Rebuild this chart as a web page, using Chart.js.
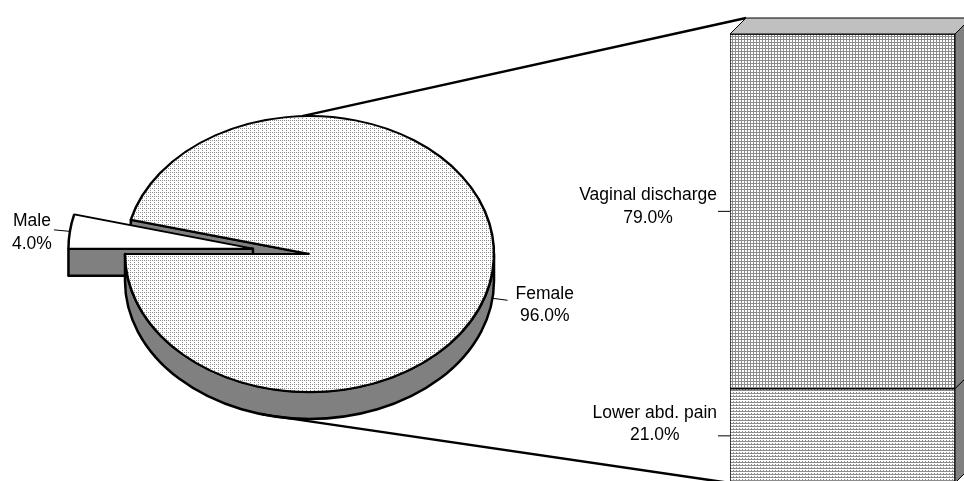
<!DOCTYPE html>
<html>
<head>
<meta charset="utf-8">
<script src="https://cdn.jsdelivr.net/npm/chart.js@4.4.1/dist/chart.umd.min.js"></script>
<style>
  html, body { margin: 0; padding: 0; background: #fff; overflow: hidden; }
  #wrap { position: relative; width: 964px; height: 481px; overflow: hidden; }
  canvas { position: absolute; left: 0; top: 0; }
</style>
</head>
<body>
<div id="wrap">
  <canvas id="pieChart" width="964" height="481"></canvas>
  <canvas id="barChart" width="964" height="500"></canvas>
</div>
<script>
const pieLabels = ['Male', 'Female'];
const pieValues = [4.0, 96.0];
const barLabels = ['Vaginal discharge', 'Lower abd. pain'];
const barValues = [79.0, 21.0];

// look of the 3d parts
const tilt = 0.748;        // vertical squash of the pie
const depth = 27;          // pie thickness
const explode = [57, 0];   // male slice is pulled out
const barDepth = 16;
const linkAngles = [267.7, 104.9]; // where the two connector lines leave the pie
const pieLabelDy = [3, 5];
const barLabelDy = [-4.5, -11.5];
const lineGap = 22.5;
const font = '17.5px "Liberation Sans", Arial, sans-serif';

function makePattern(w, h, dots, color) {
    const c = document.createElement('canvas');
    c.width = w;
    c.height = h;
    const g = c.getContext('2d');
    g.fillStyle = '#fff';
    g.fillRect(0, 0, w, h);
    g.fillStyle = color;
    dots.forEach(d => g.fillRect(d[0], d[1], 1, 1));
    return g.createPattern(c, 'repeat');
}

const pieDots = makePattern(4, 4, [[0, 0], [2, 2], [2, 0]], '#8a8a8a');
const barGrid = makePattern(3, 3, [[0, 0], [1, 0], [2, 0], [0, 1], [0, 2]], '#8c8c8c');
const barLines = makePattern(3, 3, [[0, 0], [1, 0], [2, 0], [1, 2]], '#8c8c8c');

function drawLabel(ctx, lines, x, y) {
    ctx.font = font;
    ctx.fillStyle = '#000';
    ctx.textAlign = 'center';
    ctx.textBaseline = 'middle';
    lines.forEach((t, j) => ctx.fillText(t, x, y + (j - (lines.length - 1) / 2) * lineGap));
}

function blockWidth(ctx, lines) {
    ctx.font = font;
    return Math.max(...lines.map(t => ctx.measureText(t).width));
}

// ---------- bar ----------
const bar3d = {
    id: 'bar3d',
    afterDatasetsDraw(chart) {
        const ctx = chart.ctx;
        const bars = chart.data.datasets.map((ds, i) => chart.getDatasetMeta(i).data[0]);
        const top = Math.min(...bars.map(b => b.y));
        const left = bars[0].x - bars[0].width / 2;
        const right = bars[0].x + bars[0].width / 2;
        ctx.save();
        ctx.strokeStyle = '#000';
        ctx.lineWidth = 1;
        ctx.lineJoin = 'round';
        // side faces
        bars.forEach(b => {
            ctx.beginPath();
            ctx.moveTo(right, b.y);
            ctx.lineTo(right + barDepth, b.y - barDepth);
            ctx.lineTo(right + barDepth, b.base - barDepth);
            ctx.lineTo(right, b.base);
            ctx.closePath();
            ctx.fillStyle = '#808080';
            ctx.fill();
            ctx.stroke();
        });
        // top face
        ctx.beginPath();
        ctx.moveTo(left, top);
        ctx.lineTo(left + barDepth, top - barDepth);
        ctx.lineTo(right + barDepth, top - barDepth);
        ctx.lineTo(right, top);
        ctx.closePath();
        ctx.fillStyle = '#c0c0c0';
        ctx.fill();
        ctx.stroke();
        ctx.restore();
    },
    afterDraw(chart) {
        const ctx = chart.ctx;
        ctx.save();
        chart.data.datasets.forEach((ds, di) => {
            const b = chart.getDatasetMeta(di).data[0];
            const i = barLabels.indexOf(ds.label);
            const left = b.x - b.width / 2;
            const midY = (b.y + b.base) / 2;
            const lines = [ds.label, ds.data[0].toFixed(1) + '%'];
            ctx.strokeStyle = '#000';
            ctx.lineWidth = 1;
            ctx.beginPath();
            ctx.moveTo(left - 12, midY);
            ctx.lineTo(left, midY);
            ctx.stroke();
            const w = blockWidth(ctx, lines);
            drawLabel(ctx, lines, left - 13 - w / 2, midY + barLabelDy[i]);
        });
        ctx.restore();
    }
};

const barChart = new Chart(document.getElementById('barChart'), {
    type: 'bar',
    data: {
        labels: [''],
        datasets: barLabels.map((label, i) => ({
            label: label,
            data: [barValues[i]],
            backgroundColor: [barGrid, barLines][i],
            borderColor: '#000',
            borderWidth: 1,
            borderSkipped: false,
            barPercentage: 1,
            categoryPercentage: 1
        })).reverse()
    },
    options: {
        responsive: false,
        animation: false,
        events: [],
        layout: { padding: { left: 730, right: 9, top: 34, bottom: 17 } },
        scales: {
            x: { display: false, stacked: true },
            y: { display: false, stacked: true, min: 0, max: 100 }
        },
        plugins: { legend: { display: false }, tooltip: { enabled: false } }
    },
    plugins: [bar3d]
});

// ---------- pie ----------
function slicesOf(chart) {
    return chart.getDatasetMeta(0).data.map((arc, i) => {
        const mid = (arc.startAngle + arc.endAngle) / 2;
        return {
            arc, i, mid,
            x: arc.x + explode[i] * Math.cos(mid),
            y: arc.y + explode[i] * Math.sin(mid) * tilt,
            r: arc.outerRadius
        };
    });
}

function pt(s, a, h) {
    return [s.x + s.r * Math.cos(a), s.y + s.r * tilt * Math.sin(a) + h];
}

const pie3d = {
    id: 'pie3d',
    beforeDatasetsDraw(chart) {
        const ctx = chart.ctx;
        const slices = slicesOf(chart);
        ctx.save();
        ctx.strokeStyle = '#000';
        ctx.lineWidth = 2.5;
        ctx.lineJoin = 'round';
        ctx.fillStyle = '#808080';

        // cut faces that look to the front
        const faces = [];
        slices.forEach(s => {
            if (Math.cos(s.arc.startAngle) < -1e-6) faces.push({ s, a: s.arc.startAngle });
            if (Math.cos(s.arc.endAngle) > 1e-6) faces.push({ s, a: s.arc.endAngle });
        });
        faces.sort((f, g) => (f.s.y + Math.sin(f.a) * f.s.r * tilt / 2) - (g.s.y + Math.sin(g.a) * g.s.r * tilt / 2));
        faces.forEach(f => {
            const e0 = pt(f.s, f.a, 0), e1 = pt(f.s, f.a, depth);
            ctx.beginPath();
            ctx.moveTo(f.s.x, f.s.y);
            ctx.lineTo(e0[0], e0[1]);
            ctx.lineTo(e1[0], e1[1]);
            ctx.lineTo(f.s.x, f.s.y + depth);
            ctx.closePath();
            ctx.fill();
            ctx.stroke();
        });

        // outer walls on the front half
        slices.forEach(s => {
            for (let k = -1; k <= 2; k++) {
                const base = k * 2 * Math.PI;
                const lo = Math.max(s.arc.startAngle, base);
                const hi = Math.min(s.arc.endAngle, base + Math.PI);
                if (hi <= lo) continue;
                const a0 = lo - base, a1 = hi - base;
                const b = pt(s, a1, depth);
                ctx.beginPath();
                ctx.ellipse(s.x, s.y, s.r, s.r * tilt, 0, a0, a1);
                ctx.lineTo(b[0], b[1]);
                ctx.ellipse(s.x, s.y + depth, s.r, s.r * tilt, 0, a1, a0, true);
                ctx.closePath();
                ctx.fill();
                ctx.stroke();
            }
        });
        ctx.restore();

        // top faces, drawn by the arc elements themselves
        slices.slice().sort((a, b) => explode[a.i] - explode[b.i]).forEach(s => {
            const m = new DOMMatrix().translate(s.x, s.y).scale(1, tilt).translate(-s.arc.x, -s.arc.y);
            const bg = s.arc.options.backgroundColor;
            if (bg instanceof CanvasPattern) bg.setTransform(m.inverse());
            ctx.save();
            ctx.setTransform(ctx.getTransform().multiply(m));
            s.arc.draw(ctx);
            ctx.restore();
        });
        return false;
    },
    afterDraw(chart) {
        const ctx = chart.ctx;
        const slices = slicesOf(chart);
        const bars = barChart.data.datasets.map((ds, i) => barChart.getDatasetMeta(i).data[0]);
        const top = Math.min(...bars.map(b => b.y));
        const base = Math.max(...bars.map(b => b.base));
        const left = bars[0].x - bars[0].width / 2;
        const fem = slices[1];
        ctx.save();
        ctx.strokeStyle = '#000';
        // connector lines
        ctx.lineWidth = 2.5;
        const p0 = pt(fem, linkAngles[0] * Math.PI / 180, 0);
        const p1 = pt(fem, linkAngles[1] * Math.PI / 180, depth);
        ctx.beginPath();
        ctx.moveTo(p0[0], p0[1]);
        ctx.lineTo(left + barDepth, top - barDepth);
        ctx.moveTo(p1[0], p1[1]);
        ctx.lineTo(left, base);
        ctx.stroke();

        // slice labels
        ctx.lineWidth = 1;
        slices.forEach(s => {
            const a = pt(s, s.mid, Math.sin(s.mid) > 0 ? depth : 0);
            const toLeft = Math.cos(s.mid) < 0;
            const endX = a[0] + (toLeft ? -16 : 15);
            const endY = a[1] + (toLeft ? -1.5 : 2);
            ctx.beginPath();
            ctx.moveTo(a[0], a[1]);
            ctx.lineTo(endX, endY);
            ctx.stroke();
            const lines = [pieLabels[s.i], pieValues[s.i].toFixed(1) + '%'];
            const w = blockWidth(ctx, lines);
            const cx = toLeft ? endX - 2 - w / 2 : endX + 8 + w / 2;
            drawLabel(ctx, lines, cx, endY + pieLabelDy[s.i]);
        });
        ctx.restore();
    }
};

new Chart(document.getElementById('pieChart'), {
    type: 'pie',
    data: {
        labels: pieLabels,
        datasets: [{
            data: pieValues,
            backgroundColor: ['#ffffff', pieDots],
            borderColor: '#000',
            borderWidth: 2.5
        }]
    },
    options: {
        responsive: false,
        animation: false,
        events: [],
        rotation: 270,
        radius: 184.5,
        layout: { padding: { left: 0, right: 345, top: 27, bottom: 0 } },
        plugins: { legend: { display: false }, tooltip: { enabled: false } }
    },
    plugins: [pie3d]
});
</script>
</body>
</html>
